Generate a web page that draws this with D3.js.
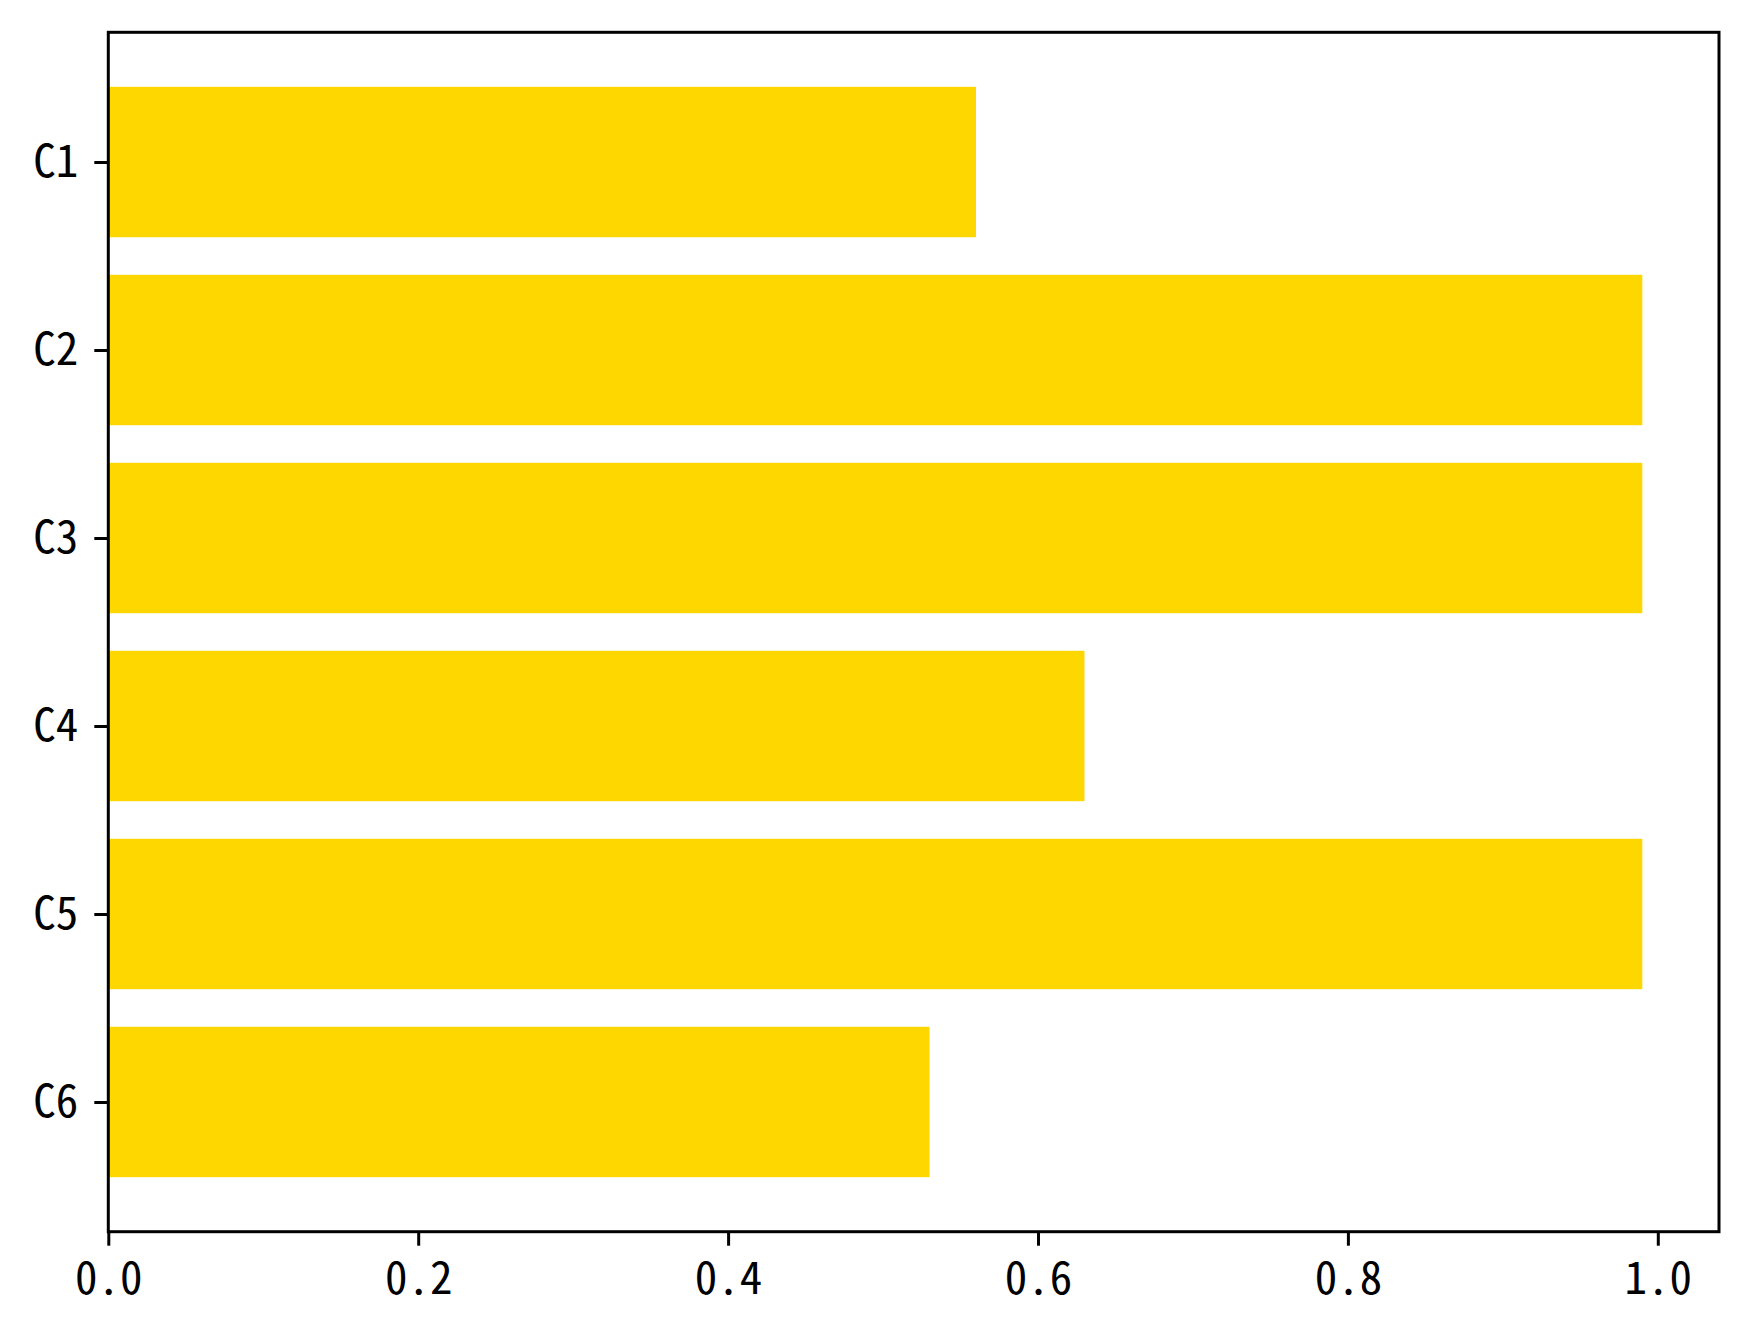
<!DOCTYPE html>
<html>
<head>
<meta charset="utf-8">
<script src="https://cdn.jsdelivr.net/npm/d3@7"></script>
<style>
  html, body { margin: 0; padding: 0; background: #fff; }
  svg { display: block; }
  .tick text { font-family: "Noto Sans Mono CJK SC", "Noto Sans CJK SC", "DejaVu Sans Mono", monospace; }
</style>
</head>
<body>
<svg id="chart" width="1749" height="1335"></svg>
<script>
const categories = ["C1", "C2", "C3", "C4", "C5", "C6"];
const values = [0.56, 0.99, 0.99, 0.63, 0.99, 0.53];
const xTicks = [0.0, 0.2, 0.4, 0.6, 0.8, 1.0];

const plotLeft = 108.3, plotRight = 1719, plotTop = 32.3, plotBottom = 1231.7;

const svg = d3.select("#chart");

const x = d3.scaleLinear().domain([0, 0.99 * 1.05]).range([plotLeft, plotRight]);
const y = d3.scaleLinear().domain([-0.69, categories.length - 1 + 0.69]).range([plotTop, plotBottom]);
const barH = 0.8;

svg.append("g").selectAll("rect")
  .data(values)
  .join("rect")
  .attr("x", x(0))
  .attr("y", (d, i) => y(i - barH / 2))
  .attr("width", d => x(d) - x(0))
  .attr("height", y(barH) - y(0))
  .attr("fill", "#FFD700");

const fontSize = 45;

const xAxis = d3.axisBottom(x)
  .tickValues(xTicks)
  .tickFormat(d3.format(".1f"))
  .tickSize(14)
  .tickPadding(16);
const gx = svg.append("g").attr("transform", `translate(0,${plotBottom})`).call(xAxis);
gx.select(".domain").remove();
gx.selectAll(".tick line").attr("stroke", "#000").attr("stroke-width", 3);
gx.selectAll(".tick text").attr("font-size", fontSize).attr("fill", "#000");

const yAxis = d3.axisLeft(y)
  .tickValues(d3.range(categories.length))
  .tickFormat(i => categories[i])
  .tickSize(14)
  .tickPadding(16);
const gy = svg.append("g").attr("transform", `translate(${plotLeft},0)`).call(yAxis);
gy.select(".domain").remove();
gy.selectAll(".tick line").attr("stroke", "#000").attr("stroke-width", 3);
gy.selectAll(".tick text").attr("font-size", fontSize).attr("fill", "#000");

svg.append("rect")
  .attr("x", plotLeft).attr("y", plotTop)
  .attr("width", plotRight - plotLeft).attr("height", plotBottom - plotTop)
  .attr("fill", "none").attr("stroke", "#000").attr("stroke-width", 3);
</script>
</body>
</html>
